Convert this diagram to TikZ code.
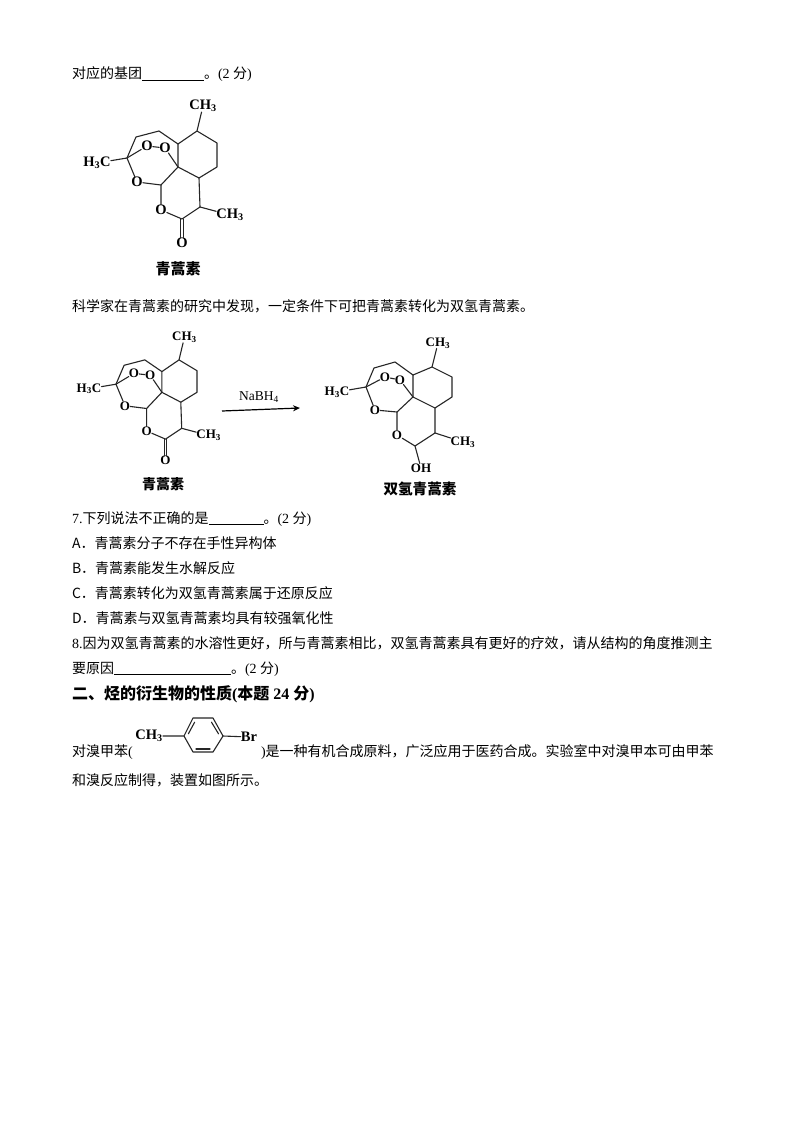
\documentclass[tikz,border=0pt]{standalone}
\usepackage{fontspec}
\usetikzlibrary{calc,arrows.meta}
\setmainfont{Liberation Serif}
\newfontfamily\cjkfont{Noto Sans CJK SC}
\newcommand{\zh}[1]{{\cjkfont #1}}
\newcommand{\blankline}[1]{\rule[-1.6pt]{#1pt}{0.7pt}}
\tikzset{
  txt/.style={anchor=base west,inner sep=0pt,outer sep=0pt,font=\fontsize{14}{14}\selectfont},
  hdg/.style={txt,font=\fontsize{16}{16}\selectfont\bfseries},
  atomA/.style={inner sep=0pt,font=\fontsize{14.5}{14.5}\selectfont\bfseries},
  atomB/.style={inner sep=0pt,font=\fontsize{13}{13}\selectfont\bfseries},
  captext/.style={inner sep=0pt,font=\fontsize{#1}{#1}\selectfont\bfseries},
  bond/.style={line width=1.1pt,line cap=round,line join=round,black!85},
}
% Connections shared by the three structures
\newcommand{\frameworkbonds}[1]{%
  \draw[bond] (#1ch) -- (#1a) -- (#1b) -- (#1c) -- (#1d) -- (#1e) -- (#1f) -- (#1a);
  \draw[bond] (#1f) -- (#1g) -- (#1h) -- (#1q);
  \draw[bond] (#1hc) -- (#1q) -- (#1oa) -- (#1ob) -- (#1e);
  \draw[bond] (#1q) -- (#1oc) -- (#1k) -- (#1e);
  \draw[bond] (#1k) -- (#1od) -- (#1m) -- (#1n) -- (#1d);
  \draw[bond] (#1n) -- (#1rch);
}
% Lactone form, in the coordinates of the first structure
\newcommand{\skeleton}[2]{%
  \node[#2] (#1ch) at (203,106) {CH\textsubscript{3}};
  \node[#2] (#1hc) at (97,163) {H\textsubscript{3}C};
  \node[#2] (#1rch) at (230,215) {CH\textsubscript{3}};
  \node[#2] (#1oa) at (147,146) {O};
  \node[#2] (#1ob) at (165,148) {O};
  \node[#2] (#1oc) at (137,182) {O};
  \node[#2] (#1od) at (161,210) {O};
  \coordinate (#1a) at (197,131);
  \coordinate (#1b) at (217,143);
  \coordinate (#1c) at (217,167);
  \coordinate (#1d) at (199,178);
  \coordinate (#1e) at (178,167);
  \coordinate (#1f) at (178,144);
  \coordinate (#1g) at (159,131);
  \coordinate (#1h) at (136,137);
  \coordinate (#1q) at (127,158);
  \coordinate (#1k) at (161,185);
  \coordinate (#1m) at (182,219);
  \coordinate (#1n) at (200,207);
  \frameworkbonds{#1}
}
\begin{document}
\begin{tikzpicture}[x=1pt,y=-1pt]
\useasboundingbox[fill=white] (0,0) rectangle (794,1123);

\node[txt] (l1) at (72,79) {\zh{对应的基团}\blankline{62}\zh{。}(2 \zh{分})};

% structure 1
\begin{scope}
  \skeleton{p}{atomA}
  \node[atomA] (po) at (182,243) {O};
  \draw[bond] ([xshift=-1.7pt]pm) -- ([xshift=-1.7pt]po.north);
  \draw[bond] ([xshift=1.7pt]pm) -- ([xshift=1.7pt]po.north);
\end{scope}
\node[captext=15] (pcap) at (178,269) {\zh{青蒿素}};

\node[txt] (l2) at (72,311) {\zh{科学家在青蒿素的研究中发现，一定条件下可把青蒿素转化为双氢青蒿素。}};

% structure 2
\begin{scope}[shift={(1.7,242)},scale=0.9]
  \skeleton{r}{atomB}
  \node[atomB] (ro) at (182,243) {O};
  \draw[bond] ([xshift=-1.6pt]rm) -- ([xshift=-1.6pt]ro.north);
  \draw[bond] ([xshift=1.6pt]rm) -- ([xshift=1.6pt]ro.north);
\end{scope}
\node[captext=14] (rcap) at (163,484) {\zh{青蒿素}};

% arrow
\coordinate (arrs) at (222,411);
\coordinate (arre) at (300,408);
\draw[line width=1.2pt,-{Stealth[length=7pt,width=6pt]}] (arrs) -- (arre);
\node[inner sep=0pt,font=\fontsize{13.5}{13.5}\selectfont] (reag) at (259,397) {NaBH\textsubscript{4}};

% structure 3
\node[atomB] (sch) at (438,343) {CH\textsubscript{3}};
\node[atomB] (shc) at (337,392) {H\textsubscript{3}C};
\node[atomB] (srch) at (463,442) {CH\textsubscript{3}};
\node[atomB] (soa) at (385,377) {O};
\node[atomB] (sob) at (400,380) {O};
\node[atomB] (soc) at (375,410) {O};
\node[atomB] (sod) at (397,435) {O};
\node[atomB] (soh) at (421,468) {OH};
\coordinate (sa) at (432,367);
\coordinate (sb) at (452,377);
\coordinate (sc) at (452,397);
\coordinate (sd) at (435,408);
\coordinate (se) at (413,397);
\coordinate (sf) at (413,375);
\coordinate (sg) at (395,362);
\coordinate (sh) at (374,368);
\coordinate (sq) at (366,387);
\coordinate (sk) at (397,412);
\coordinate (sm) at (415,446);
\coordinate (sn) at (435,433);
\frameworkbonds{s}
\draw[bond] (sm) -- (soh);
\node[captext=14.6] (scap) at (420,489) {\zh{双氢青蒿素}};

\node[txt] (l3) at (72,523) {7.\zh{下列说法不正确的是}\blankline{55}\zh{。}(2 \zh{分})};
\node[txt] (l4) at (72,548) {\zh{A．青蒿素分子不存在手性异构体}};
\node[txt] (l5) at (72,573) {\zh{B．青蒿素能发生水解反应}};
\node[txt] (l6) at (72,598) {\zh{C．青蒿素转化为双氢青蒿素属于还原反应}};
\node[txt] (l7) at (72,623) {\zh{D．青蒿素与双氢青蒿素均具有较强氧化性}};
\node[txt] (l8) at (72,648) {8.\zh{因为双氢青蒿素的水溶性更好，所与青蒿素相比，双氢青蒿素具有更好的疗效，请从结构的角度推测主}};
\node[txt] (l9) at (72,673) {\zh{要原因}\blankline{117}\zh{。}(2 \zh{分})};
\node[hdg] (l10) at (72,699) {\zh{二、烃的衍生物的性质}(\zh{本题} 24 \zh{分})};

\node[txt] (l11) at (72,756) {\zh{对溴甲苯}(};
\node[txt] (l12) at (261,756) {)\zh{是一种有机合成原料，广泛应用于医药合成。实验室中对溴甲本可由甲苯}};
\node[txt] (l13) at (72,785) {\zh{和溴反应制得，装置如图所示。}};

% p-bromotoluene
\node[atomA] (tch) at (149,736) {CH\textsubscript{3}};
\node[atomA] (tbr) at (249,737) {Br};
\coordinate (t1) at (184,736);
\coordinate (t2) at (193,718);
\coordinate (t3) at (213,718);
\coordinate (t4) at (223,736);
\coordinate (t5) at (213,752);
\coordinate (t6) at (193,752);
\draw[bond] (tch) -- (t1) -- (t2) -- (t3) -- (t4) -- (t5) -- (t6) -- (t1);
\draw[bond] (t4) -- (tbr);
\draw[bond] ($(t1)!0.15!(t2)+(3,0.5)$) -- ($(t1)!0.85!(t2)+(3,1.5)$);
\draw[bond] ($(t3)!0.15!(t4)+(-3,1.5)$) -- ($(t3)!0.85!(t4)+(-3,0.5)$);
\draw[bond] ($(t5)!0.15!(t6)+(0,-3)$) -- ($(t5)!0.85!(t6)+(0,-3)$);
\end{tikzpicture}
\end{document}
